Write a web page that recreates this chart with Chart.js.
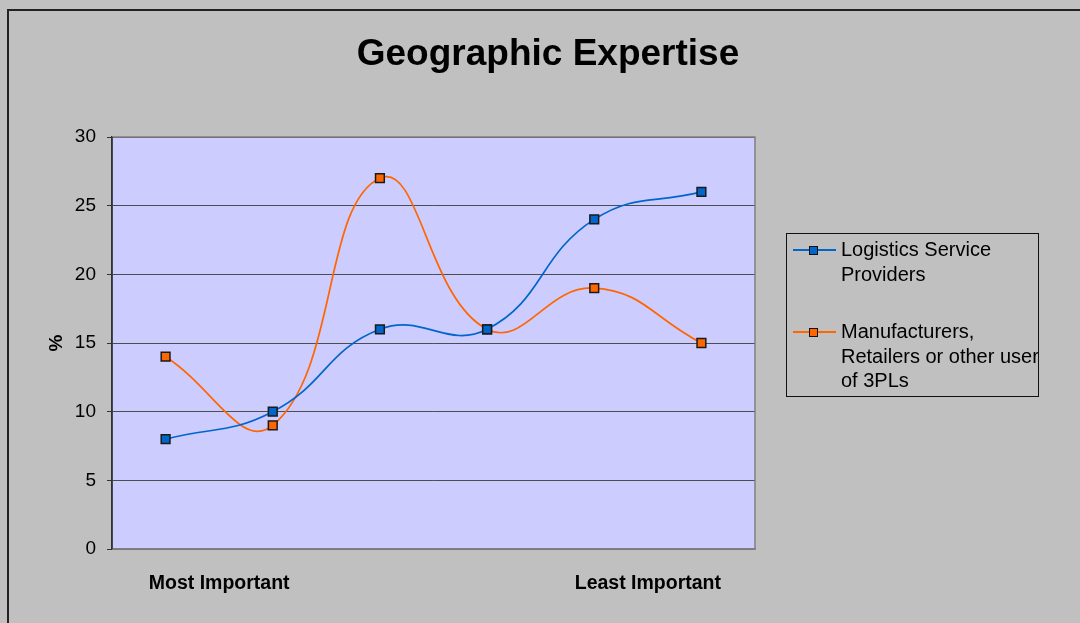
<!DOCTYPE html>
<html>
<head>
<meta charset="utf-8">
<script src="https://cdn.jsdelivr.net/npm/chart.js@4.4.1/dist/chart.umd.min.js"></script>
<style>
  html, body { margin: 0; padding: 0; background: #c0c0c0; overflow: hidden; }
  #wrap { position: relative; width: 1080px; height: 623px; }
  #frame { position: absolute; left: 7px; top: 9px; width: 1100px; height: 700px; border: 2px solid #222; box-sizing: border-box; }
  #chart { position: absolute; left: 0; top: 0; }
  #title { position: absolute; left: 0; width: 1096px; top: 32px; text-align: center;
           font: bold 37px "Liberation Sans", Arial, sans-serif; color: #000; }
  #legend { position: absolute; left: 786px; top: 233px; width: 253px; height: 164px;
            border: 1px solid #111; box-sizing: border-box; overflow: hidden;
            font: 20px "Liberation Sans", Arial, sans-serif; color: #000; }
  .item { position: absolute; left: 0; right: 0; }
  .sample { position: absolute; left: 6px; width: 43px; height: 2px; }
  .mark { position: absolute; left: 16px; width: 9px; height: 9px; box-sizing: border-box; border: 1.5px solid #111; top: -3.5px; }
  .txt { position: absolute; left: 54px; white-space: nowrap; line-height: 24.5px; }
</style>
</head>
<body>
<div id="wrap">
  <div id="frame"></div>
  <canvas id="chart" width="1080" height="623"></canvas>
  <div id="title"></div>
  <div id="legend"></div>
</div>
<script>
// Ranking positions from most to least important
const categories = ['Most Important', '', '', '', 'Least Important', ''];
const logisticsProviders = [8, 10, 16, 16, 24, 26];
const manufacturersRetailers = [14, 9, 27, 16, 19, 15];
const yTicks = [0, 5, 10, 15, 20, 25, 30];

const seriesNames = [
  ['Logistics Service', 'Providers'],
  ['Manufacturers,', 'Retailers or other user', 'of 3PLs']
];
const seriesColors = ['#0066cc', '#ff6600'];
const chartTitle = 'Geographic Expertise';

document.getElementById('title').textContent = chartTitle;

const FONT = '"Liberation Sans", Arial, sans-serif';

// Lavender plot background and grey frame around the plotting area
const plotFrame = {
  id: 'plotFrame',
  beforeDraw(chart) {
    const a = chart.chartArea, ctx = chart.ctx;
    ctx.save();
    ctx.fillStyle = '#ccccff';
    ctx.fillRect(a.left, a.top, a.right - a.left, a.bottom - a.top);
    ctx.restore();
  },
  afterDraw(chart) {
    const a = chart.chartArea, ctx = chart.ctx;
    ctx.save();
    ctx.strokeStyle = '#808080';
    ctx.lineWidth = 1.5;
    ctx.beginPath();
    ctx.moveTo(a.left, a.top);
    ctx.lineTo(a.right, a.top);
    ctx.lineTo(a.right, a.bottom);
    ctx.lineTo(a.left, a.bottom);
    ctx.stroke();
    ctx.strokeStyle = '#333';
    ctx.beginPath();
    ctx.moveTo(a.left, a.top);
    ctx.lineTo(a.left, a.bottom);
    ctx.stroke();
    ctx.restore();
  }
};

const lineDataset = (label, data, color) => ({
  label, data,
  borderColor: color,
  backgroundColor: color,
  borderWidth: 1.7,
  tension: 0.45,
  pointStyle: 'rect',
  pointRadius: 6.2,
  pointHoverRadius: 6.2,
  pointBackgroundColor: color,
  pointBorderColor: '#1a1a1a',
  pointBorderWidth: 1.5,
  fill: false
});

const chart = new Chart(document.getElementById('chart'), {
  type: 'line',
  plugins: [plotFrame],
  data: {
    labels: categories,
    datasets: [
      lineDataset(seriesNames[0].join(' '), logisticsProviders, seriesColors[0]),
      lineDataset(seriesNames[1].join(' '), manufacturersRetailers, seriesColors[1])
    ]
  },
  options: {
    responsive: false,
    animation: false,
    events: [],
    layout: { padding: { left: 40, top: 137, right: 325, bottom: 0 } },
    plugins: { legend: { display: false }, title: { display: false }, tooltip: { enabled: false } },
    scales: {
      x: {
        type: 'category',
        offset: true,
        grid: { display: false, drawTicks: false },
        border: { display: true, color: '#808080', width: 1.5 },
        ticks: {
          autoSkip: false, maxRotation: 0, padding: 23, labelOffset: 53.6,
          color: '#000', font: { family: FONT, size: 19.5, weight: 'bold' }
        },
        afterFit(scale) { scale.height = 74; }
      },
      y: {
        min: 0, max: 30,
        afterBuildTicks(scale) { scale.ticks = yTicks.map(v => ({ value: v })); },
        grid: { color: '#4d4d4d', lineWidth: 1, tickLength: 5, tickColor: '#333' },
        border: { display: true, color: '#333', width: 1.5 },
        ticks: { padding: 11, color: '#000', font: { family: FONT, size: 19 } },
        title: {
          display: true, text: '%', color: '#000',
          font: { family: FONT, size: 19, weight: 'bold' },
          padding: { top: 5, bottom: 0 }
        },
        afterFit(scale) { scale.width = 72; }
      }
    }
  }
});

// Legend box with wrapped series names
const legend = document.getElementById('legend');
const itemTops = [15, 97];
seriesNames.forEach((lines, i) => {
  const item = document.createElement('div');
  item.className = 'item';
  item.style.top = itemTops[i] + 'px';
  const sample = document.createElement('div');
  sample.className = 'sample';
  sample.style.background = seriesColors[i];
  const mark = document.createElement('div');
  mark.className = 'mark';
  mark.style.background = seriesColors[i];
  sample.appendChild(mark);
  const txt = document.createElement('div');
  txt.className = 'txt';
  txt.style.top = '-12px';
  txt.innerHTML = lines.map(s => s.replace(/&/g, '&amp;')).join('<br>');
  item.appendChild(sample);
  item.appendChild(txt);
  legend.appendChild(item);
});
</script>
</body>
</html>
